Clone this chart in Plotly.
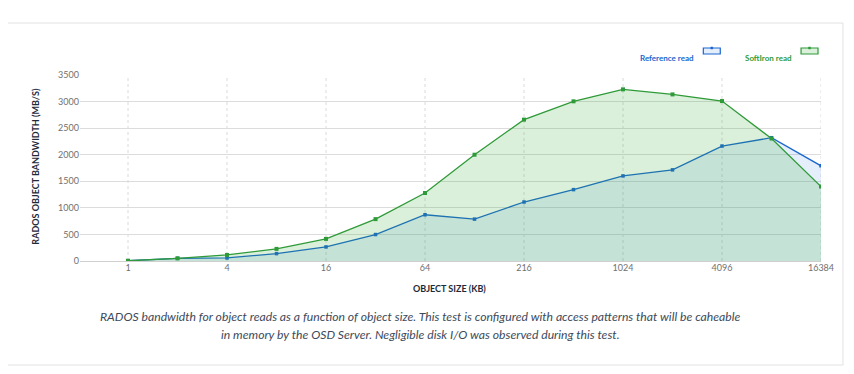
import plotly.graph_objects as go

sizes = ["1", "2", "4", "8", "16", "32", "64", "128", "216", "512",
         "1024", "2048", "4096", "8192", "16384"]
reference_read = [5, 50, 57, 139, 265, 498, 870, 788, 1110, 1343,
                  1601, 1715, 2163, 2320, 1791]
softiron_read = [5, 50, 114, 228, 416, 788, 1280, 2000, 2660, 3005,
                 3230, 3135, 3010, 2305, 1400]
tick_labels = ["1", "4", "16", "64", "216", "1024", "4096", "16384"]

x = list(range(len(sizes)))
tickvals = [i for i, s in enumerate(sizes) if s in tick_labels]

BLUE = "#1a66cf"
GREEN = "#2f9a38"

OFF = 8  # page body margin
W, H = 838, 358
L, R, T, B = 72, 23, 67, 105
PW = W - L - R
PH = H - T - B


def px(xr):
    return (xr - OFF - L) / PW


def py(yr):
    return (H - B - (yr - OFF)) / PH


fig = go.Figure()
fig.add_trace(go.Scatter(
    x=x, y=reference_read, name="Reference read", mode="lines+markers",
    line=dict(color=BLUE, width=1.3), marker=dict(symbol="square", size=3.5, color=BLUE),
    fill="tozeroy", fillcolor="rgba(40,120,220,0.12)", showlegend=False))
fig.add_trace(go.Scatter(
    x=x, y=softiron_read, name="SoftIron read", mode="lines+markers",
    line=dict(color=GREEN, width=1.3), marker=dict(symbol="square", size=4, color=GREEN),
    fill="tozeroy", fillcolor="rgba(50,170,50,0.18)", showlegend=False))

shapes = []
# card border
shapes.append(dict(type="rect", xref="paper", yref="paper",
                   x0=px(4), x1=px(845), y0=py(365), y1=py(23),
                   line=dict(color="#e2e2e2", width=1), layer="below"))
# vertical dotted grid lines at labelled ticks
for tv in tickvals:
    shapes.append(dict(type="line", xref="x", yref="paper", x0=tv, x1=tv, y0=0, y1=1,
                       line=dict(color="#dadada", width=1, dash="dot"), layer="below"))
# legend symbols
for x0, col, fc in [(705, BLUE, "rgba(40,120,220,0.12)"), (803, GREEN, "rgba(50,170,50,0.18)")]:
    shapes.append(dict(type="rect", xref="paper", yref="paper",
                       x0=px(x0), x1=px(x0 + 17), y0=py(54), y1=py(48),
                       line=dict(color=col, width=1.2), fillcolor=fc))
    shapes.append(dict(type="rect", xref="paper", yref="paper",
                       x0=px(x0 + 7.5), x1=px(x0 + 9.5), y0=py(49), y1=py(47),
                       line=dict(color=col, width=0.5), fillcolor=col))

annotations = [
    dict(text="<b>RADOS OBJECT BANDWIDTH (MB/S)</b>", xref="paper", yref="paper",
         x=px(27), y=py(166), textangle=-90, showarrow=False,
         font=dict(size=9, color="#1e2a3a", family="Lato")),
    dict(text="<b>OBJECT SIZE (KB)</b>", xref="paper", yref="paper",
         x=px(450), y=py(296), showarrow=False,
         font=dict(size=9, color="#1e2a3a", family="Lato")),
    dict(text="<i>RADOS bandwidth for object reads as a function of object size. This test is configured with access patterns that will be caheable</i>",
         xref="paper", yref="paper", x=px(421), y=py(326), showarrow=False,
         font=dict(size=12.2, color="#3d4a5a", family="Lato")),
    dict(text="<i>in memory by the OSD Server. Negligible disk I/O was observed during this test.</i>",
         xref="paper", yref="paper", x=px(421), y=py(344), showarrow=False,
         font=dict(size=12.2, color="#3d4a5a", family="Lato")),
    dict(text="<b>Reference read</b>", xref="paper", yref="paper",
         x=px(698), y=py(51), xanchor="right", showarrow=False,
         font=dict(size=8, color=BLUE, family="Lato")),
    dict(text="<b>SoftIron read</b>", xref="paper", yref="paper",
         x=px(796), y=py(51), xanchor="right", showarrow=False,
         font=dict(size=8, color=GREEN, family="Lato")),
]

fig.update_layout(
    width=W, height=H,
    margin=dict(l=L, r=R, t=T, b=B),
    paper_bgcolor="white", plot_bgcolor="white",
    font=dict(family="Lato", size=9, color="#707070"),
    shapes=shapes, annotations=annotations,
    showlegend=False,
    xaxis=dict(range=[-0.97, 14], tickvals=tickvals, ticktext=tick_labels,
               showgrid=False, zeroline=False, showline=False, ticks="",
               tickfont=dict(size=9, color="#707070")),
    yaxis=dict(range=[0, 3500], dtick=500, showgrid=True, gridcolor="#dcdcdc",
               gridwidth=1, zeroline=True, zerolinecolor="#cfcfcf", zerolinewidth=1,
               showline=False, ticks="", tickfont=dict(size=9, color="#707070")),
)

fig.write_html("out.html")
